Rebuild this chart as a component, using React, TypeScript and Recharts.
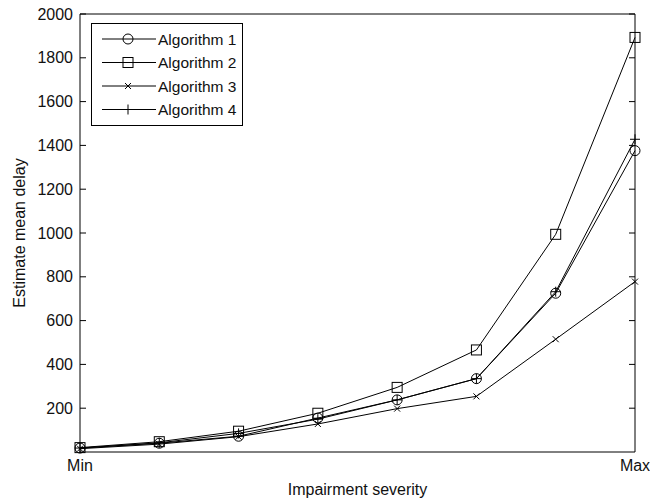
import React from "react";
import { LineChart, Line, XAxis, YAxis, Legend } from "recharts";

// severity levels, Min .. Max
const levels = [0, 1, 2, 3, 4, 5, 6, 7];
const algorithm1 = [18, 40, 72, 155, 238, 335, 725, 1376];
const algorithm2 = [20, 47, 95, 177, 295, 466, 994, 1893];
const algorithm3 = [15, 36, 70, 128, 198, 254, 515, 778];
const algorithm4 = [18, 42, 85, 150, 238, 335, 732, 1428];
const yTicks = [200, 400, 600, 800, 1000, 1200, 1400, 1600, 1800, 2000];
const xTickLabels: Record<number, string> = { 0: "Min", 7: "Max" };
const seriesNames = ["Algorithm 1", "Algorithm 2", "Algorithm 3", "Algorithm 4"];

const data = levels.map((lv, i) => ({
  level: lv,
  a1: algorithm1[i],
  a2: algorithm2[i],
  a3: algorithm3[i],
  a4: algorithm4[i],
}));

const FONT = "'Liberation Sans', Arial, sans-serif";

type Shape = "circle" | "square" | "x" | "plus";

function Marker({ cx, cy, shape }: { cx: number; cy: number; shape: Shape }) {
  if (cx == null || cy == null) return null;
  const s = { stroke: "#000", strokeWidth: 1, fill: "none" };
  if (shape === "circle") return <circle cx={cx} cy={cy} r={5} {...s} />;
  if (shape === "square") return <rect x={cx - 5} y={cy - 5} width={10} height={10} {...s} />;
  if (shape === "x")
    return <path d={`M${cx - 3},${cy - 3}L${cx + 3},${cy + 3}M${cx - 3},${cy + 3}L${cx + 3},${cy - 3}`} {...s} />;
  return <path d={`M${cx - 5},${cy}L${cx + 5},${cy}M${cx},${cy - 5}L${cx},${cy + 5}`} {...s} />;
}

const shapes: Shape[] = ["circle", "square", "x", "plus"];

function dotFor(shape: Shape) {
  return (p: any) => <Marker key={`${shape}-${p.index}`} cx={p.cx} cy={p.cy} shape={shape} />;
}

const NoLabel = () => <g />;

function LegendBox() {
  return (
    <div style={{ width: 152, height: 103, boxSizing: "border-box", border: "1px solid #000", background: "#fff" }}>
      <svg width={150} height={101}>
        {seriesNames.map((n, i) => {
          const y = 15 + i * 23.5;
          return (
            <g key={n}>
              <line x1={10} x2={64} y1={y} y2={y} stroke="#000" strokeWidth={1} />
              <Marker cx={36} cy={y} shape={shapes[i]} />
              <text x={66} y={y} dominantBaseline="central" fontFamily={FONT} fontSize={15.5} fill="#111">
                {n}
              </text>
            </g>
          );
        })}
      </svg>
    </div>
  );
}

export default function App() {
  const tickStyle = { fontFamily: FONT, fontSize: 16, fill: "#111" };
  return (
    <div style={{ position: "absolute", left: 0, top: 0, width: 650, height: 502, background: "#fff" }}>
      <LineChart width={650} height={502} data={data} margin={{ top: 14, right: 15, bottom: 0, left: 0 }}>
        <XAxis
          dataKey="level"
          type="number"
          domain={[0, 7]}
          ticks={[0, 7]}
          tickFormatter={(v: number) => xTickLabels[v] ?? ""}
          height={50}
          tickLine={false}
          tickSize={0}
          tickMargin={8}
          axisLine={{ stroke: "#000" }}
          tick={tickStyle}
          label={{ value: "Impairment severity", position: "insideBottom", offset: 7, style: { fontFamily: FONT, fontSize: 16, fill: "#111" } }}
        />
        <XAxis xAxisId="t" dataKey="level" type="number" domain={[0, 7]} ticks={[0, 7]} orientation="top" mirror height={1} tick={NoLabel} tickLine={false} axisLine={{ stroke: "#000" }} />
        <YAxis
          type="number"
          domain={[0, 2000]}
          ticks={yTicks}
          width={80}
          tickLine={false}
          tickMargin={7}
          tickSize={0}
          axisLine={{ stroke: "#000" }}
          tick={tickStyle}
          label={{ value: "Estimate mean delay", angle: -90, position: "insideLeft", offset: 19, style: { fontFamily: FONT, fontSize: 16, fill: "#111", textAnchor: "middle" } }}
        />
        {/* inward tick marks on both sides of the box, same 0..2000 scale */}
        <YAxis yAxisId="lt" orientation="left" mirror type="number" domain={[0, 2000]} ticks={yTicks} width={1} tickSize={6} tick={NoLabel} tickLine={{ stroke: "#000" }} axisLine={false} />
        <YAxis yAxisId="r" orientation="right" mirror type="number" domain={[0, 2000]} ticks={yTicks} width={1} tickSize={6} tick={NoLabel} tickLine={{ stroke: "#000" }} axisLine={{ stroke: "#000" }} />
        <Legend
          layout="vertical"
          align="center"
          verticalAlign="middle"
          content={() => <LegendBox />}
          wrapperStyle={{ left: 91, top: 23, width: 152, height: 103 }}
        />
        <Line dataKey="a1" name="Algorithm 1" stroke="#000" strokeWidth={1} dot={dotFor("circle")} activeDot={false} isAnimationActive={false} />
        <Line dataKey="a2" name="Algorithm 2" stroke="#000" strokeWidth={1} dot={dotFor("square")} activeDot={false} isAnimationActive={false} />
        <Line yAxisId="lt" dataKey="a3" name="Algorithm 3" stroke="#000" strokeWidth={1} dot={dotFor("x")} activeDot={false} isAnimationActive={false} />
        <Line yAxisId="r" dataKey="a4" name="Algorithm 4" stroke="#000" strokeWidth={1} dot={dotFor("plus")} activeDot={false} isAnimationActive={false} />
      </LineChart>
    </div>
  );
}
